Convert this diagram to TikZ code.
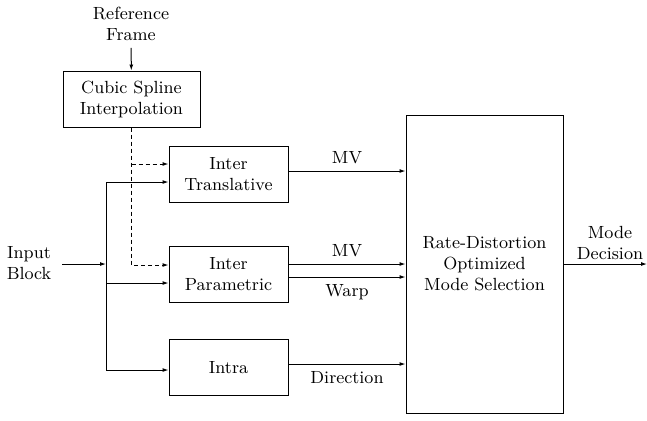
\documentclass[tikz,border=0pt]{standalone}
\usetikzlibrary{arrows.meta}
\tikzset{
  every node/.style={font=\fontsize{8.8}{10.5}\selectfont, align=center},
  block/.style={draw, line width=0.5pt, inner sep=0pt, minimum width=59.5pt, minimum height=28pt},
  arr/.style={line width=0.5pt, -{Latex[length=3pt,width=2pt]}},
  dotarr/.style={arr, dash pattern=on 2pt off 1.5pt}
}
\begin{document}
\begin{tikzpicture}[x=0.5pt,y=-0.5pt]
\useasboundingbox (0,0) rectangle (647,420);
% blocks
\node (ref) at (131,24) {Reference\\Frame};
\node [block, minimum width=68.5pt] (spline) at (131.5,99) {Cubic Spline\\Interpolation};
\node [block] (trans) at (228.5,174) {Inter\\Translative};
\node [block] (param) at (228.5,274) {Inter\\Parametric};
\node [block] (intra) at (228.5,367.5) {Intra};
\node [block, minimum width=78.5pt, minimum height=149pt] (rd) at (484.5,264) {Rate-Distortion\\Optimized\\Mode Selection};
\node (input) at (29,263) {Input\\Block};
\node (mode) at (610,243) {Mode\\Decision};
% junctions
\coordinate (split) at (106,264);
\coordinate (d1) at (131.5,164);
\coordinate (d2) at (131.5,265);
\coordinate (end) at (647,264);
% reference frame
\draw [arr] (ref) -- (spline);
% interpolated frame
\draw [dotarr] (spline.south) -- (d2) -- (param.west |- d2);
\draw [dotarr] (d1) -- (trans.west |- d1);
% input block
\draw [arr] (input.east) ++(4,1) -- (split);
\draw [line width=0.5pt] (split) -- (106,182) (split) -- (106,370);
\draw [arr] (106,182) -- (trans.west |- 0,182);
\draw [arr] (106,283) -- (param.west |- 0,283);
\draw [arr] (106,370) -- (intra.west |- 0,370);
% to mode selection
\draw [arr] (trans.east |- 0,171) -- node [above] {MV} (rd.west |- 0,171);
\draw [arr] (param.east |- 0,264) -- node [above] {MV} (rd.west |- 0,264);
\draw [arr] (param.east |- 0,277) -- node [below] {Warp} (rd.west |- 0,277);
\draw [arr] (intra.east |- 0,364) -- node [below] {Direction} (rd.west |- 0,364);
% output
\draw [arr] (rd.east |- end) -- (end);
\end{tikzpicture}
\end{document}
